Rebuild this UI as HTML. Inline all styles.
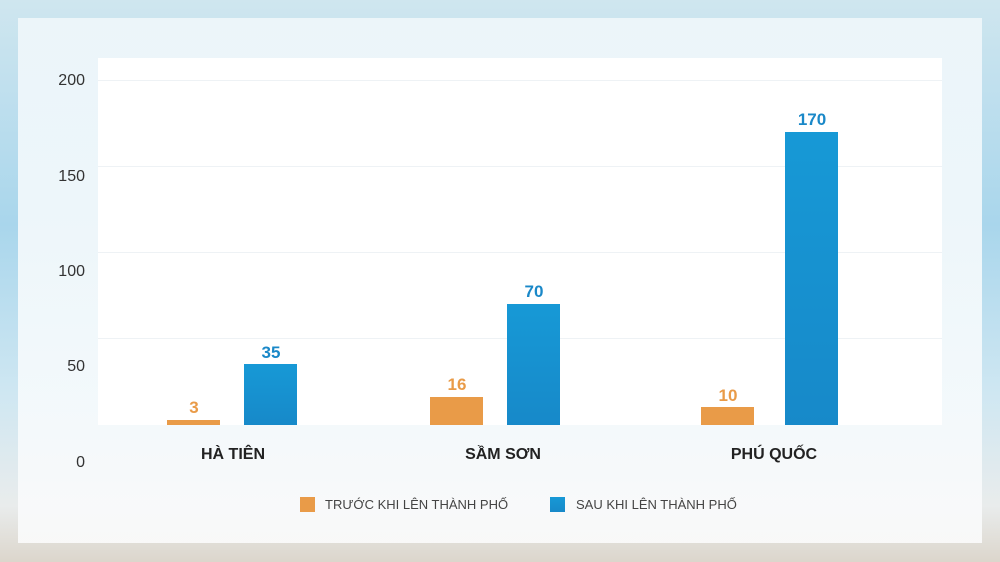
<!DOCTYPE html>
<html><head><meta charset="utf-8"><style>
body{margin:0;width:1000px;height:562px;overflow:hidden;font-family:"Liberation Sans",sans-serif;
background:linear-gradient(180deg,#cfe6ef 0%,#a9d6ec 40%,#cfe7f2 70%,#e9ecec 90%,#dcd6cc 100%);position:relative}
.a{position:absolute}
.panel{left:18px;top:18px;width:964px;height:525px;background:linear-gradient(180deg,rgba(238,246,250,.93) 0%,rgba(245,250,252,.95) 75%,rgba(250,250,250,.95) 100%)}
.plot{left:98px;top:58px;width:844px;height:367px;background:#fff}
.g{left:98px;width:844px;height:1px;background:#eef2f5}
.y{width:40px;text-align:right;left:45px;font-size:16px;color:#333}
.o{background:#e99b48}.b{background:linear-gradient(180deg,#1799d6,#1789c9)}
.v{font-weight:bold;font-size:17px;text-align:center;width:60px}
.c{font-weight:bold;font-size:16px;color:#222;text-align:center;width:200px}
.l{font-size:13px;color:#444}
</style></head><body>
<div class="a panel"></div>
<div class="a plot"></div>
<div class="a g" style="top:80px"></div><div class="a g" style="top:166px"></div><div class="a g" style="top:252px"></div><div class="a g" style="top:338px"></div>
<div class="a y" style="top:72px">200</div><div class="a y" style="top:168px">150</div><div class="a y" style="top:263px">100</div><div class="a y" style="top:358px">50</div><div class="a y" style="top:454px">0</div>
<div class="a o" style="left:167px;top:420px;width:53px;height:5px"></div>
<div class="a b" style="left:244px;top:364px;width:53px;height:61px"></div>
<div class="a o" style="left:430px;top:397px;width:53px;height:28px"></div>
<div class="a b" style="left:507px;top:304px;width:53px;height:121px"></div>
<div class="a o" style="left:701px;top:407px;width:53px;height:18px"></div>
<div class="a b" style="left:785px;top:132px;width:53px;height:293px"></div>
<div class="a v" style="left:164px;top:398px;color:#e99b48">3</div>
<div class="a v" style="left:241px;top:343px;color:#1a88c8">35</div>
<div class="a v" style="left:427px;top:375px;color:#e99b48">16</div>
<div class="a v" style="left:504px;top:282px;color:#1a88c8">70</div>
<div class="a v" style="left:698px;top:386px;color:#e99b48">10</div>
<div class="a v" style="left:782px;top:110px;color:#1a88c8">170</div>
<div class="a c" style="left:133px;top:446px">HÀ TIÊN</div>
<div class="a c" style="left:403px;top:446px">SẦM SƠN</div>
<div class="a c" style="left:674px;top:446px">PHÚ QUỐC</div>
<div class="a o" style="left:300px;top:497px;width:15px;height:15px"></div>
<div class="a l" style="left:325px;top:497px">TRƯỚC KHI LÊN THÀNH PHỐ</div>
<div class="a b" style="left:550px;top:497px;width:15px;height:15px"></div>
<div class="a l" style="left:576px;top:497px">SAU KHI LÊN THÀNH PHỐ</div>
</body></html>
